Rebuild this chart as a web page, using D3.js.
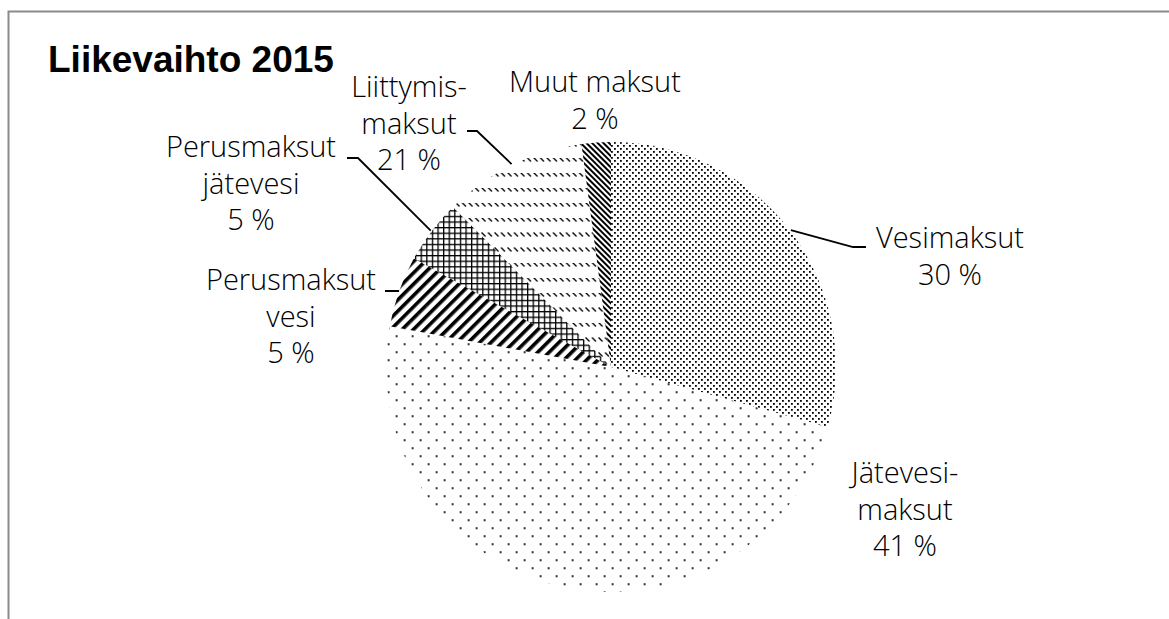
<!DOCTYPE html>
<html>
<head>
<meta charset="utf-8">
<script src="https://cdn.jsdelivr.net/npm/d3@7"></script>
<style>
  body { margin: 0; background: #fff; }
  svg { display: block; }
</style>
</head>
<body>
<div id="viz"></div>
<script>
var width = 1169;
var height = 619;

// slice shares as drawn (angles), printed labels as shown
var categories = ['Vesimaksut', 'Jätevesimaksut', 'Perusmaksut vesi', 'Perusmaksut jätevesi', 'Liittymismaksut', 'Muut maksut'];
var sliceShares = [29.3, 48.6, 5.1, 4.6, 10.3, 2.1];
var labelLines = [['Vesimaksut'], ['Jätevesi-', 'maksut'], ['Perusmaksut', 'vesi'], ['Perusmaksut', 'jätevesi'], ['Liittymis-', 'maksut'], ['Muut maksut']];
var labelPercents = ['30 %', '41 %', '5 %', '5 %', '21 %', '2 %'];
var patternIds = ['pVesi', 'pJate', 'pPerVesi', 'pPerJate', 'pLiitt', 'pMuut'];

var cx = 611, cy = 367, radius = 225;
var lineH = 36.5;

// label placement relative to pie centre; leader = elbow and end point
var labelLayout = [
  {dx: 339, dy: -119, leader: [[242, -120], [255, -120]]},
  {dx: 294, dy: 116, leader: null},
  {dx: -320, dy: -77, leader: [[-212, -76], [-226, -76]]},
  {dx: -360, dy: -210, leader: [[-253, -209], [-264, -209]]},
  {dx: -202, dy: -270, leader: [[-134, -236], [-144, -236]]},
  {dx: -16, dy: -275, leader: null}
];

var svg = d3.select('#viz').append('svg')
  .attr('width', width)
  .attr('height', height);

var defs = svg.append('defs');

// dense dots
var p1 = defs.append('pattern').attr('id', 'pVesi')
  .attr('patternUnits', 'userSpaceOnUse').attr('width', 6).attr('height', 6);
p1.append('rect').attr('x', 0).attr('y', 0).attr('width', 1.8).attr('height', 1.8).attr('fill', '#000');
p1.append('rect').attr('x', 3).attr('y', 3).attr('width', 1.8).attr('height', 1.8).attr('fill', '#000');

// sparse dots
var p2 = defs.append('pattern').attr('id', 'pJate')
  .attr('patternUnits', 'userSpaceOnUse').attr('width', 16).attr('height', 16)
  .attr('x', 7.7).attr('y', 15.3);
p2.append('rect').attr('x', 1).attr('y', 1).attr('width', 1.8).attr('height', 1.8).attr('fill', '#000');
p2.append('rect').attr('x', 9).attr('y', 9).attr('width', 1.8).attr('height', 1.8).attr('fill', '#000');

// wide upward diagonal
var p3 = defs.append('pattern').attr('id', 'pPerVesi')
  .attr('patternUnits', 'userSpaceOnUse').attr('width', 8).attr('height', 8)
  .attr('patternTransform', 'rotate(45)');
p3.append('rect').attr('x', 0).attr('y', 0).attr('width', 3.6).attr('height', 8).attr('fill', '#000');

// small grid
var p4 = defs.append('pattern').attr('id', 'pPerJate')
  .attr('patternUnits', 'userSpaceOnUse').attr('width', 5.6).attr('height', 5.6);
p4.append('rect').attr('x', 0).attr('y', 0).attr('width', 5.6).attr('height', 1.3).attr('fill', '#000');
p4.append('rect').attr('x', 0).attr('y', 0).attr('width', 1.3).attr('height', 5.6).attr('fill', '#000');

// dashed downward diagonal
var p5 = defs.append('pattern').attr('id', 'pLiitt')
  .attr('patternUnits', 'userSpaceOnUse').attr('width', 6.5).attr('height', 15);
p5.append('line').attr('x1', 0.5).attr('y1', 0.5).attr('x2', 4.5).attr('y2', 4.5)
  .attr('stroke', '#000').attr('stroke-width', 1.3);

// dark downward diagonal
var p6 = defs.append('pattern').attr('id', 'pMuut')
  .attr('patternUnits', 'userSpaceOnUse').attr('width', 4).attr('height', 4)
  .attr('patternTransform', 'rotate(-45)');
p6.append('rect').attr('x', 0).attr('y', 0).attr('width', 2).attr('height', 4).attr('fill', '#000');

// frame
svg.append('rect')
  .attr('x', 8.5).attr('y', 11.5)
  .attr('width', 1300).attr('height', 700)
  .attr('fill', 'none')
  .attr('stroke', '#8a8a8a')
  .attr('stroke-width', 2);

var pie = d3.pie().sort(null).value(function(d) { return d; });
var arcs = pie(sliceShares);
var arc = d3.arc().innerRadius(0).outerRadius(radius);

var g = svg.append('g').attr('transform', 'translate(' + cx + ',' + cy + ')');

g.selectAll('path.slice').data(arcs)
  .enter().append('path')
  .attr('class', 'slice')
  .attr('d', arc)
  .attr('fill', function(d, i) { return 'url(#' + patternIds[i] + ')'; });

// leader lines
arcs.forEach(function(d, i) {
  var lay = labelLayout[i];
  if (!lay.leader) return;
  var mid = (d.startAngle + d.endAngle) / 2;
  var start = [Math.sin(mid) * (radius + 1), -Math.cos(mid) * (radius + 1)];
  var pts = [start].concat(lay.leader);
  g.append('path')
    .attr('d', d3.line()(pts))
    .attr('fill', 'none')
    .attr('stroke', '#000')
    .attr('stroke-width', 1.8);
});

// labels
arcs.forEach(function(d, i) {
  var lay = labelLayout[i];
  var lines = labelLines[i].concat([labelPercents[i]]);
  var t = g.append('text')
    .attr('text-anchor', 'middle')
    .attr('font-family', '"Open Sans", "Noto Sans", sans-serif')
    .attr('font-weight', 300)
    .attr('font-size', 29)
    .attr('fill', '#000');
  lines.forEach(function(s, k) {
    t.append('tspan')
      .attr('x', lay.dx)
      .attr('y', lay.dy + k * lineH)
      .text(s);
  });
});

// title
svg.append('text')
  .attr('x', 48)
  .attr('y', 72)
  .attr('font-family', '"Liberation Sans", Arial, sans-serif')
  .attr('font-weight', 'bold')
  .attr('font-size', 37)
  .attr('fill', '#000')
  .text('Liikevaihto 2015');
</script>
</body>
</html>
